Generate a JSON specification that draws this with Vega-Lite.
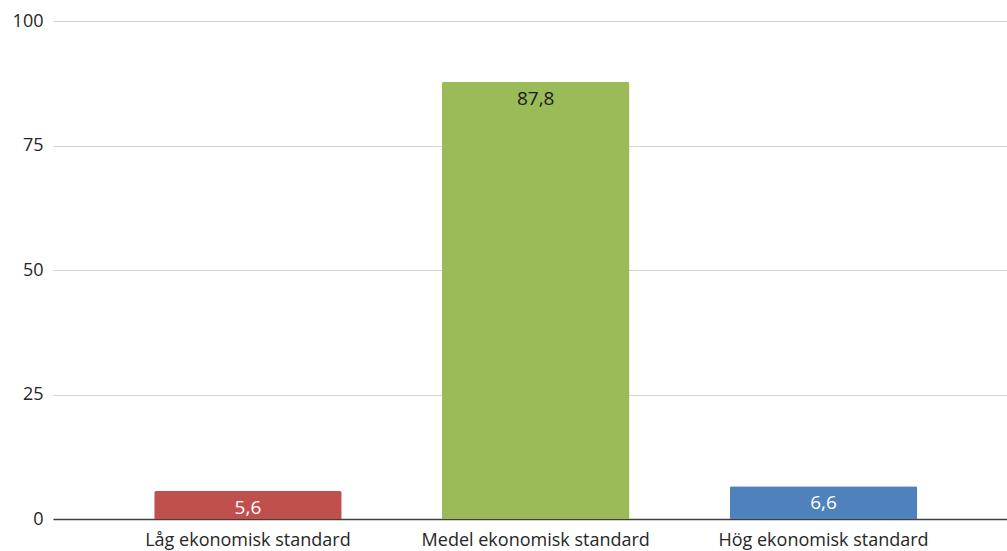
{
  "$schema": "https://vega.github.io/schema/vega-lite/v6.json",
  "autosize": "none",
  "width": 954,
  "height": 498,
  "padding": {"left": 53, "top": 21, "right": 0, "bottom": 32},
  "background": "white",
  "config": {
    "view": {"stroke": null},
    "font": "Open Sans"
  },
  "data": {
    "values": [
      {"kategori": "Låg ekonomisk standard", "andel": 5.6, "etikett": "5,6"},
      {"kategori": "Medel ekonomisk standard", "andel": 87.8, "etikett": "87,8"},
      {"kategori": "Hög ekonomisk standard", "andel": 6.6, "etikett": "6,6"}
    ]
  },
  "encoding": {
    "x": {
      "field": "kategori",
      "type": "nominal",
      "sort": null,
      "scale": {"paddingInner": 0.3485, "paddingOuter": 0.3317, "align": 0.53},
      "axis": {
        "title": null,
        "labelAngle": 0,
        "labelFontSize": 18,
        "labelColor": "#262626",
        "labelPadding": 12,
        "labelLimit": 0,
        "ticks": false,
        "domainColor": "#404040",
        "domainWidth": 1.3,
        "labelFont": "Open Sans"
      }
    },
    "y": {
      "field": "andel",
      "type": "quantitative",
      "scale": {"domain": [0, 100], "nice": false},
      "axis": {
        "title": null,
        "values": [0, 25, 50, 75, 100],
        "domain": false,
        "ticks": false,
        "labelFontSize": 18,
        "labelColor": "#262626",
        "labelPadding": 10,
        "gridColor": "#d4d4d4",
        "gridWidth": 1.2,
        "labelFont": "Open Sans"
      }
    }
  },
  "layer": [
    {
      "mark": {"type": "bar", "cornerRadiusTopLeft": 2, "cornerRadiusTopRight": 2},
      "encoding": {
        "color": {
          "field": "kategori",
          "type": "nominal",
          "sort": null,
          "scale": {"range": ["#C0504D", "#9BBB59", "#4F81BD"]},
          "legend": null
        }
      }
    },
    {
      "mark": {"type": "text", "baseline": "middle", "align": "center", "dy": 17, "fontSize": 19, "font": "Open Sans"},
      "encoding": {
        "text": {"field": "etikett"},
        "color": {
          "condition": {"test": "datum.andel > 50", "value": "#1a1a1a"},
          "value": "#ffffff"
        }
      }
    }
  ]
}
